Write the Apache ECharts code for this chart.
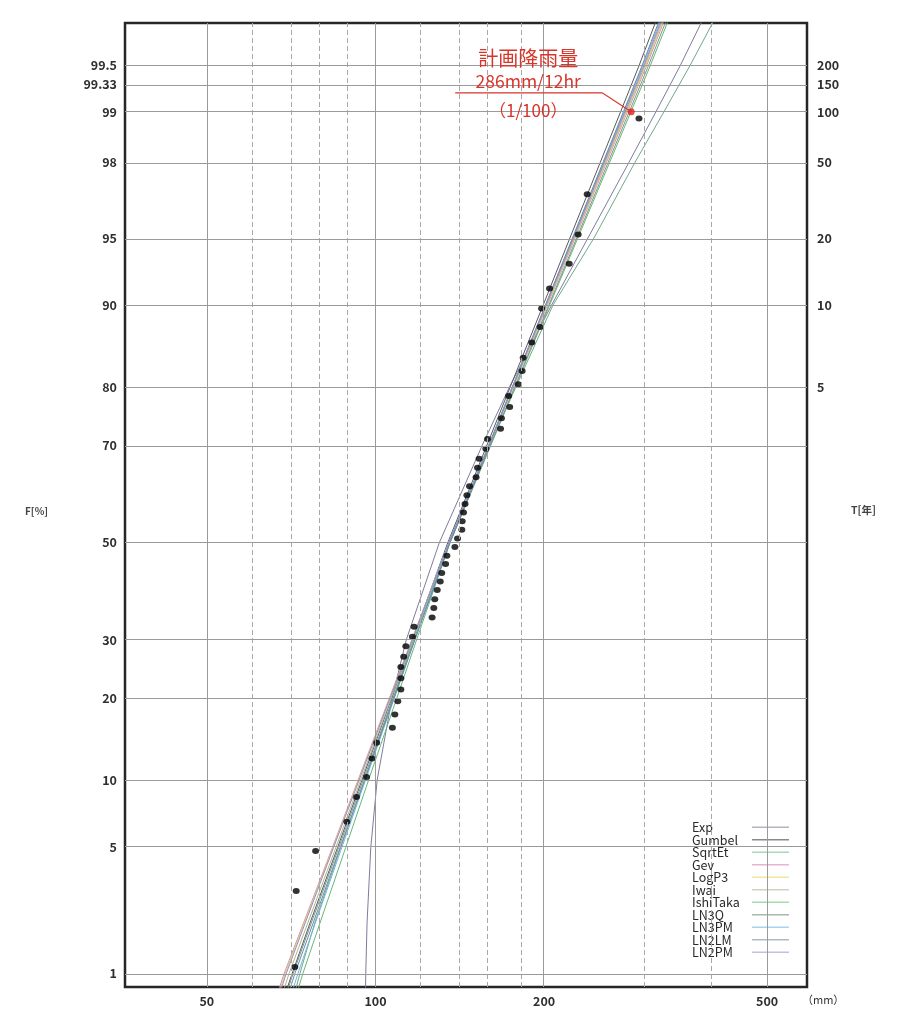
<!DOCTYPE html>
<html>
<head>
<meta charset="utf-8">
<script src="https://cdn.jsdelivr.net/npm/echarts@6/dist/echarts.min.js"></script>
<style>
html,body{margin:0;padding:0;background:#fff;}
#chart{width:900px;height:1012px;}
</style>
</head>
<body>
<div id="chart"></div>
<script>
// ---------- data ----------
const fTicks = [1, 5, 10, 20, 30, 50, 70, 80, 90, 95, 98, 99, 99.33, 99.5];
const tTickF = [80, 90, 95, 98, 99, 99.33, 99.5];
const tTicks = [5, 10, 20, 50, 100, 150, 200];
const xTicks = [50, 100, 200, 500];
const xGridSolid = [50, 100, 200, 500];
const xGridDashed = [60, 70, 80, 90, 120, 140, 160, 180, 300, 400];

// observed annual maxima (mm) and their plotting positions (%)
const obsMm = [71.8,72.2,78.2,88.9,92.5,96.4,98.6,100.5,107.2,108.3,109.6,111.0,111.0,111.0,112.3,113.3,116.4,117.2,126.2,127.1,127.6,128.9,130.5,131.3,133.4,134.1,138.6,140.1,142.6,142.8,143.6,144.5,145.6,147.2,151.2,152.1,153.1,157.4,158.5,167.2,167.8,173.6,172.8,179.8,182.7,183.5,190.1,196.7,197.9,204.5,221.7,230.0,238.7,295.3];
const obsF = [1.1,3.0,4.8,6.6,8.5,10.3,12.2,14.0,15.9,17.7,19.6,21.4,23.2,25.1,26.9,28.8,30.6,32.5,34.3,36.2,38.0,39.9,41.7,43.5,45.4,47.2,49.1,50.9,52.8,54.6,56.5,58.3,60.1,62.0,63.8,65.7,67.5,69.4,71.2,73.1,74.9,76.8,78.6,80.4,82.3,84.1,86.0,87.8,89.7,91.5,93.4,95.2,97.0,98.9];

// plan rainfall
const planMm = 286;
const planF = 99;

// fitted distribution curves: mm values at these non-exceedance probabilities (%)
const lineF = [0.8, 1, 2, 5, 10, 20, 30, 50, 70, 80, 90, 95, 98, 99, 99.5, 99.76];
const expMm      = [96.0,96.1,96.6,98.1,100.7,107.0,113.5,130.0,155.0,173.5,206.1,239.4,283.4,316.6,349.9,383.2];
const gumbelMm   = [69.5,71.0,76.4,85.6,94.6,106.8,116.5,134.6,158.0,174.0,199.1,222.3,251.9,273.8,295.4,317.0];
const sqrtEtMm   = [72.1,73.3,77.9,86.7,95.7,107.4,117.1,135.7,160.0,178.1,207.3,245.4,290.5,327.2,364.2,401.9];
const gevMm      = [67.3,68.7,74.4,83.8,93.1,105.8,116.1,135.2,159.5,176.2,202.6,227.1,258.4,281.6,304.7,327.7];
const logP3Mm    = [67.6,69.0,74.6,84.0,93.3,106.0,116.2,135.2,159.4,176.0,202.2,226.5,257.6,280.7,303.5,326.3];
const iwaiMm     = [68.7,70.1,75.7,85.0,94.1,106.6,116.6,135.2,159.3,175.8,201.8,226.0,256.8,279.7,302.4,325.0];
const ishiTakaMm = [72.8,74.2,79.6,88.5,97.2,109.1,118.4,135.8,160.6,177.6,204.5,229.7,261.8,285.7,309.4,333.1];
const ln3qMm     = [69.8,71.3,76.8,86.0,95.1,107.5,117.4,135.8,160.3,177.2,203.8,228.6,260.2,283.7,307.1,330.4];
const ln3pmMm    = [71.3,72.7,78.1,87.1,96.0,108.0,117.5,135.2,159.1,175.4,201.0,224.9,255.3,277.8,300.1,322.3];
const ln2lmMm    = [70.4,71.8,77.4,86.5,95.6,107.8,117.6,135.8,159.5,175.7,201.1,224.7,254.8,277.0,299.1,321.0];
const ln2pmMm    = [67.9,69.3,74.9,84.2,93.5,106.1,116.3,135.2,159.2,175.6,201.4,225.5,256.0,278.7,301.3,323.7];

const seriesNames  = ['Exp','Gumbel','SqrtEt','Gev','LogP3','Iwai','IshiTaka','LN3Q','LN3PM','LN2LM','LN2PM'];
const seriesValues = [expMm,gumbelMm,sqrtEtMm,gevMm,logP3Mm,iwaiMm,ishiTakaMm,ln3qMm,ln3pmMm,ln2lmMm,ln2pmMm];
const seriesColors = ['#7e7c9c','#5a5a5a','#6fa88a','#d88ab6','#dccf6a','#b4b294','#66b878','#7a9888','#74b4e2','#6a8ca6','#948cc8'];
const legendColors = ['#b4b4c4','#8a8a8a','#a8d8b4','#e8b4d0','#efe8a0','#d4d2bc','#a6dcb0','#a8b8ae','#a8d4f4','#a8bccc','#c4bee4'];

// axis range (mm, %)
const X_MIN_MM = 35.73, X_MAX_MM = 589.0;
const F_MIN = 0.823, F_MAX = 99.749;

// ---------- scale transforms (normal probability paper / log mm) ----------
function probit(p) {
  const a=[-3.969683028665376e+01,2.209460984245205e+02,-2.759285104469687e+02,1.383577518672690e+02,-3.066479806614716e+01,2.506628277459239e+00];
  const b=[-5.447609879822406e+01,1.615858368580409e+02,-1.556989798598866e+02,6.680131188771972e+01,-1.328068155288572e+01];
  const c=[-7.784894002430293e-03,-3.223964580411365e-01,-2.400758277161838e+00,-2.549671010243215e+00,4.374664141464968e+00,2.938163982698783e+00];
  const d=[7.784695709041462e-03,3.224671290700398e-01,2.445134137142996e+00,3.754408661907416e+00];
  const pl=0.02425, ph=1-pl;
  let q, r;
  if (p < pl) { q=Math.sqrt(-2*Math.log(p)); return (((((c[0]*q+c[1])*q+c[2])*q+c[3])*q+c[4])*q+c[5])/((((d[0]*q+d[1])*q+d[2])*q+d[3])*q+1); }
  if (p <= ph) { q=p-0.5; r=q*q; return (((((a[0]*r+a[1])*r+a[2])*r+a[3])*r+a[4])*r+a[5])*q/(((((b[0]*r+b[1])*r+b[2])*r+b[3])*r+b[4])*r+1); }
  q=Math.sqrt(-2*Math.log(1-p)); return -(((((c[0]*q+c[1])*q+c[2])*q+c[3])*q+c[4])*q+c[5])/((((d[0]*q+d[1])*q+d[2])*q+d[3])*q+1);
}
const zOf = f => probit(f / 100);
const lx = v => Math.log10(v);

const FONT = '"Noto Sans CJK JP","Noto Sans",sans-serif';
const LABEL_COLOR = '#2e2e2e';

const fTickZ = fTicks.map(zOf);
const tTickZ = tTickF.map(zOf);
const xTickL = xTicks.map(lx);

function nearestLabel(v, pos, labels) {
  let bi = 0, bd = Infinity;
  pos.forEach((p, i) => { const dd = Math.abs(p - v); if (dd < bd) { bd = dd; bi = i; } });
  return String(labels[bi]);
}

// grid lines
const gridMarks = [];
xGridSolid.forEach(v => gridMarks.push({ xAxis: lx(v), lineStyle: { color: '#9a9a9a', width: 1, type: 'solid' } }));
xGridDashed.forEach(v => gridMarks.push({ xAxis: lx(v), lineStyle: { color: '#a8a8a8', width: 1, type: [5, 3] } }));
fTicks.forEach(f => gridMarks.push({ yAxis: zOf(f), lineStyle: { color: '#9a9a9a', width: 1, type: 'solid' } }));

const series = [{
  name: '_grid', type: 'line', data: [], silent: true, z: 1,
  markLine: { silent: true, symbol: ['none', 'none'], label: { show: false }, emphasis: { disabled: true }, animation: false, data: gridMarks }
}];

seriesNames.forEach((name, k) => {
  series.push({
    name, type: 'line', symbol: 'none', showSymbol: false, z: 2, silent: true,
    lineStyle: { color: seriesColors[k], width: 1 },
    itemStyle: { color: legendColors[k] },
    data: lineF.map((f, i) => [lx(seriesValues[k][i]), zOf(f)])
  });
});

series.push({
  name: 'obs', type: 'scatter', z: 4, silent: true,
  symbol: 'circle', symbolSize: [7, 6],
  itemStyle: { color: '#000' },
  data: obsMm.map((m, i) => [lx(m), zOf(obsF[i])])
});
series.push({
  name: 'plan', type: 'scatter', z: 5, silent: true,
  symbol: 'circle', symbolSize: 7,
  itemStyle: { color: '#e0201e' },
  data: [[lx(planMm), zOf(planF)]]
});

const axisLabelBase = { fontFamily: FONT, fontSize: 12.5, fontWeight: 'bold', color: LABEL_COLOR };

const option = {
  animation: false,
  backgroundColor: '#ffffff',
  textStyle: { fontFamily: FONT },
  grid: { left: 125, right: 93, top: 23, bottom: 25, show: true, borderColor: '#262626', borderWidth: 2.5, backgroundColor: 'transparent' },
  xAxis: {
    type: 'value', min: lx(X_MIN_MM), max: lx(X_MAX_MM),
    axisLine: { show: false }, axisTick: { show: false }, splitLine: { show: false },
    axisLabel: Object.assign({}, axisLabelBase, {
      margin: 8, customValues: xTickL,
      formatter: v => nearestLabel(v, xTickL, xTicks)
    })
  },
  yAxis: [{
    type: 'value', position: 'left', min: zOf(F_MIN), max: zOf(F_MAX),
    axisLine: { show: false }, axisTick: { show: false }, splitLine: { show: false },
    axisLabel: Object.assign({}, axisLabelBase, {
      margin: 8, customValues: fTickZ,
      formatter: v => nearestLabel(v, fTickZ, fTicks)
    })
  }, {
    type: 'value', position: 'right', min: zOf(F_MIN), max: zOf(F_MAX),
    axisLine: { show: false }, axisTick: { show: false }, splitLine: { show: false },
    axisLabel: Object.assign({}, axisLabelBase, {
      margin: 10, customValues: tTickZ,
      formatter: v => nearestLabel(v, tTickZ, tTicks)
    })
  }],
  legend: {
    data: seriesNames.map((n, k) => ({ name: n, icon: 'rect', itemStyle: { color: legendColors[k] } })),
    orient: 'vertical', left: 682, top: 807,
    align: 'right', selectedMode: false,
    backgroundColor: '#ffffff',
    padding: [14, 9, 12, 10],
    itemWidth: 37, itemHeight: 1.6, itemGap: 0,
    formatter: name => '{a|' + name + '}',
    textStyle: {
      fontFamily: FONT, fontSize: 12.5, color: '#2a2a2a',
      rich: { a: { width: 55, align: 'left', fontFamily: FONT, fontSize: 12.5, color: '#2a2a2a', lineHeight: 12.9 } }
    }
  },
  series
};

const chart = echarts.init(document.getElementById('chart'), null, { renderer: 'canvas' });
chart.setOption(option);

// annotation placed relative to the plan point
const pp = chart.convertToPixel({ gridIndex: 0 }, [lx(planMm), zOf(planF)]);
const RED = '#d8352b';
chart.setOption({
  graphic: [
    { type: 'text', left: 25, top: 506, style: { text: 'F[%]', font: 'bold 10px ' + FONT, fill: '#444' } },
    { type: 'text', left: 851, top: 505, style: { text: 'T[年]', font: 'bold 10.5px ' + FONT, fill: '#444' } },
    { type: 'text', left: 802, top: 994, style: { text: '（mm）', font: '11px ' + FONT, fill: '#333' } },
    { type: 'polyline', z: 6, shape: { points: [[pp[0] - 176, pp[1] - 19], [pp[0] - 29, pp[1] - 19], [pp[0], pp[1]]] }, style: { stroke: RED, lineWidth: 1.2, fill: null } },
    { type: 'text', z: 6, x: pp[0] - 103, y: pp[1] - 53.4, style: { text: '計画降雨量', font: '20px ' + FONT, fill: RED, align: 'center', verticalAlign: 'middle' } },
    { type: 'text', z: 6, x: pp[0] - 103, y: pp[1] - 30, style: { text: '286mm/12hr', font: '17.5px ' + FONT, fill: RED, align: 'center', verticalAlign: 'middle' } },
    { type: 'text', z: 6, x: pp[0] - 103, y: pp[1] - 1.7, style: { text: '（1/100）', font: '17px ' + FONT, fill: RED, align: 'center', verticalAlign: 'middle' } }
  ]
});
</script>
</body>
</html>
